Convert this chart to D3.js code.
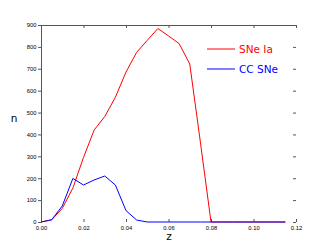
<!DOCTYPE html>
<html>
<head>
<meta charset="utf-8">
<script src="https://cdn.jsdelivr.net/npm/d3@7"></script>
<style>
  html, body { margin: 0; padding: 0; background: #fff; }
  svg { display: block; font-family: "DejaVu Sans", sans-serif; }
  .tick text { font-size: 5.8px; fill: #000; }
</style>
</head>
<body>
<div id="chart"></div>
<script>
// redshift histogram, SNe Ia vs CC SNe

const zValues = [0, 0.005, 0.01, 0.015, 0.02, 0.025, 0.03, 0.035, 0.04, 0.045, 0.05, 0.055,
                 0.06, 0.065, 0.07, 0.075, 0.08, 0.085, 0.09, 0.095, 0.1, 0.105, 0.11, 0.115];
const snIa  = [0, 10, 62, 155, 295, 420, 482, 570, 685, 775, 830, 884,
               850, 815, 722, 365, 0, 0, 0, 0, 0, 0, 0, 0];
const ccSNe = [0, 10, 73, 199, 169, 192, 210, 169, 52, 9, 0, 0,
               0, 0, 0, 0, 0, 0, 0, 0, 0, 0, 0, 0];
const xTicks = [0, 0.02, 0.04, 0.06, 0.08, 0.10, 0.12];
const yTicks = [0, 100, 200, 300, 400, 500, 600, 700, 800, 900];
const seriesNames = ["SNe Ia", "CC SNe"];
const seriesColors = ["#ff0000", "#0000ff"];

const W = 329, H = 247;
const M = { top: 25, right: 33, bottom: 25, left: 41 };
const iw = W - M.left - M.right, ih = H - M.top - M.bottom;

const svg = d3.select("#chart").append("svg").attr("width", W).attr("height", H);
svg.append("rect").attr("width", W).attr("height", H).attr("fill", "#fff");
const g = svg.append("g").attr("transform", `translate(${M.left},${M.top})`);

const x = d3.scaleLinear().domain([0, 0.12]).range([0, iw]);
const y = d3.scaleLinear().domain([0, 900]).range([ih, 0]);

// axes: left + top spines, ticks on all sides
const axLeft = g.append("g")
  .call(d3.axisLeft(y).tickValues(yTicks).tickSize(3).tickSizeOuter(0).tickPadding(1.5).tickFormat(d3.format("d")));
const axRight = g.append("g").attr("transform", `translate(${iw},0)`)
  .call(d3.axisLeft(y).tickValues(yTicks).tickSize(0).tickFormat(""));
axRight.selectAll(".tick line").attr("x1", -3).attr("x2", 0);
axRight.select(".domain").remove();
const axTop = g.append("g")
  .call(d3.axisBottom(x).tickValues(xTicks).tickSize(3).tickSizeOuter(0).tickFormat(""));
const axBottom = g.append("g").attr("transform", `translate(0,${ih})`)
  .call(d3.axisBottom(x).tickValues(xTicks).tickSize(0).tickPadding(4).tickFormat(d3.format(".2f")));
axBottom.selectAll(".tick line").attr("y1", 0).attr("y2", -3);
axBottom.select(".domain").remove();

[axLeft, axRight, axTop, axBottom].forEach(a => {
  a.selectAll(".domain").attr("stroke", "#555");
  a.selectAll(".tick line").attr("stroke", "#555");
});

// curves
const line = d3.line().x((d, i) => x(zValues[i])).y(d => y(d));
[snIa, ccSNe].forEach((s, k) => {
  g.append("path").datum(s)
    .attr("fill", "none")
    .attr("stroke", seriesColors[k])
    .attr("stroke-width", 1)
    .attr("d", line);
});

// legend
seriesNames.forEach((name, k) => {
  const ly = 24 + k * 20;
  g.append("line")
    .attr("x1", 166).attr("x2", 194).attr("y1", ly).attr("y2", ly)
    .attr("stroke", seriesColors[k]).attr("stroke-width", 1);
  g.append("text")
    .attr("x", 198).attr("y", ly + 3.5)
    .attr("font-size", 10.5)
    .attr("fill", seriesColors[k])
    .text(name);
});

// axis labels
svg.append("text").attr("x", 169).attr("y", 240).attr("text-anchor", "middle")
  .attr("font-size", 10.5).text("z");
svg.append("text").attr("x", 14).attr("y", 122).attr("text-anchor", "middle")
  .attr("font-size", 10.5).text("n");
</script>
</body>
</html>
